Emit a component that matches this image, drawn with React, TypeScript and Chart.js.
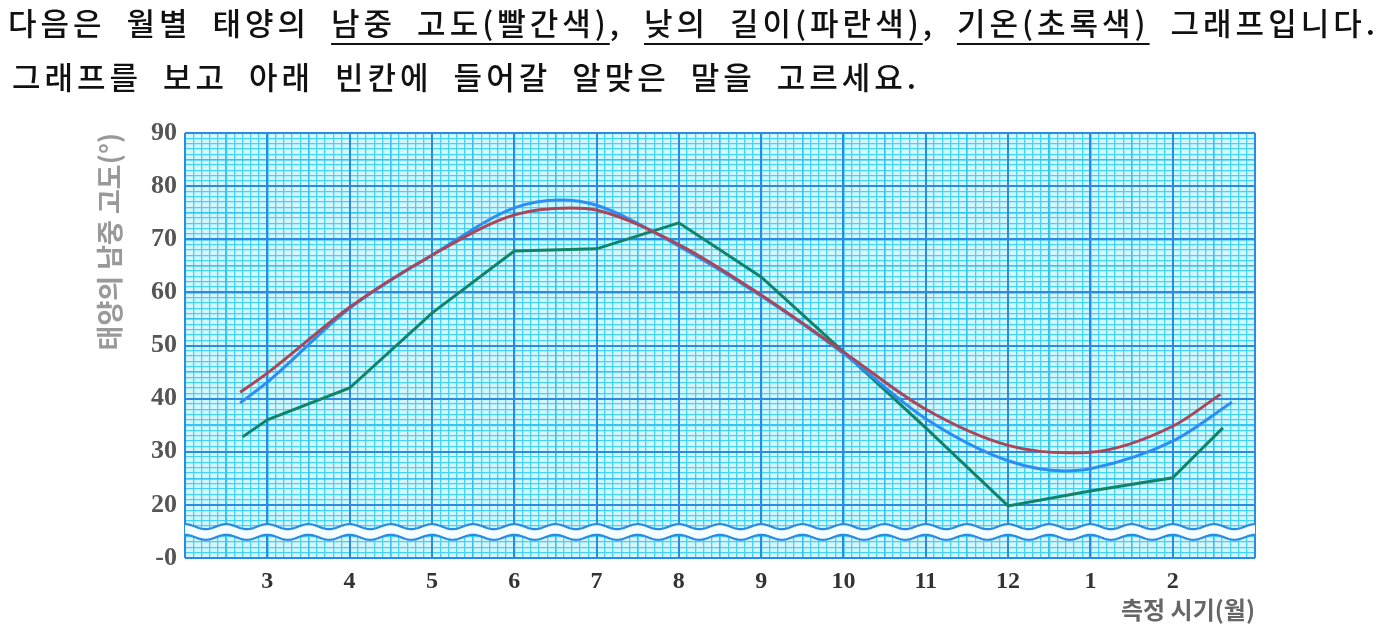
import React, { useEffect, useRef } from 'react';
import { Chart, registerables } from 'chart.js';

Chart.register(...registerables);

// ---- data ----
const MONTH_LABELS = ['3', '4', '5', '6', '7', '8', '9', '10', '11', '12', '1', '2'];
const Y_TICK_VALUES = [10, 20, 30, 40, 50, 60, 70, 80, 90];
const Y_TICK_LABELS = ['-0', '20', '30', '40', '50', '60', '70', '80', '90'];

// 태양의 남중 고도 (빨간색)
const ALT_X = [-0.33, 0, 1, 2, 3, 3.68, 4, 5, 6, 7, 8, 9, 9.75, 10, 11, 11.58];
const ALT_Y = [41.2, 44.8, 57.2, 67.0, 74.6, 75.9, 75.5, 69.0, 59.5, 48.8, 38.0, 31.2, 29.8, 29.9, 34.8, 40.8];

// 낮의 길이 (파란색)
const DAY_X = [-0.33, 0, 1, 2, 3, 3.56, 4, 5, 6, 7, 8, 9, 9.69, 10, 11, 11.72];
const DAY_Y = [39.2, 43.1, 57.0, 67.0, 75.9, 77.4, 76.4, 68.7, 59.3, 48.5, 36.2, 28.3, 26.4, 26.8, 32.0, 39.3];

// 기온 (초록색)
const TEMP_X = [-0.3, 0, 1, 2, 3, 4, 5, 6, 7, 8, 9, 10, 11, 11.61];
const TEMP_Y = [32.8, 36.0, 42.0, 56.1, 67.8, 68.2, 73.1, 62.9, 48.8, 34.5, 19.8, 22.6, 25.1, 34.5];

const X_TITLE = '측정 시기(월)';
const Y_TITLE = '태양의 남중 고도(°)';

// axis break band (value range on y)
const BREAK_UPPER = 15.9;
const BREAK_LOWER = 13.9;

// ---- styles ----
const PAPER = '#d4f6fe';
const MINOR = '#45d3f5';
const MID = '#35c2f1';
const MAJOR = '#2b8be0';

const zip = (xs: number[], ys: number[]) => xs.map((x, i) => ({ x, y: ys[i] }));

const paperPlugin = {
  id: 'paper',
  beforeDraw(chart: any) {
    const { ctx, chartArea } = chart;
    ctx.save();
    ctx.fillStyle = PAPER;
    ctx.fillRect(chartArea.left, chartArea.top, chartArea.right - chartArea.left, chartArea.bottom - chartArea.top);
    ctx.restore();
  },
};

const breakPlugin = {
  id: 'axisBreak',
  beforeDatasetsDraw(chart: any) {
    const { ctx, chartArea, scales } = chart;
    const xs = scales.x;
    const ys = scales.y;
    const yTop = ys.getPixelForValue(BREAK_UPPER);
    const yBot = ys.getPixelForValue(BREAK_LOWER);
    const x0 = xs.getPixelForValue(0);
    const period = (xs.getPixelForValue(1) - x0) / 2;
    const amp = 2.5;
    const wave = (x: number) => -amp * Math.cos((2 * Math.PI * (x - x0)) / period);
    const L = chartArea.left;
    const R = chartArea.right;
    ctx.save();
    ctx.beginPath();
    ctx.moveTo(L, yTop + wave(L));
    for (let x = L; x <= R; x += 1) ctx.lineTo(x, yTop + wave(x));
    ctx.lineTo(R, yBot + wave(R));
    for (let x = R; x >= L; x -= 1) ctx.lineTo(x, yBot + wave(x));
    ctx.closePath();
    ctx.fillStyle = '#f4fdff';
    ctx.fill();
    ctx.strokeStyle = MAJOR;
    ctx.lineWidth = 2.2;
    [yTop, yBot].forEach((yy) => {
      ctx.beginPath();
      ctx.moveTo(L, yy + wave(L));
      for (let x = L; x <= R; x += 1) ctx.lineTo(x, yy + wave(x));
      ctx.stroke();
    });
    ctx.restore();
  },
};

const hiddenAxis = (axis: 'x' | 'y', min: number, max: number, step: number, color: string, width: number, z: number) => ({
  type: 'linear',
  axis,
  position: axis === 'x' ? 'bottom' : 'left',
  min,
  max,
  ticks: { display: false, stepSize: step },
  grid: { color, lineWidth: width, drawTicks: false, z },
  border: { display: false },
  afterFit: (s: any) => {
    if (axis === 'x') s.height = 0;
    else s.width = 0;
  },
});

export default function App() {
  const canvasRef = useRef<HTMLCanvasElement | null>(null);

  useEffect(() => {
    if (!canvasRef.current) return;
    const chart = new Chart(canvasRef.current, {
      type: 'line',
      data: {
        datasets: [
          {
            label: '태양의 남중 고도',
            data: zip(ALT_X, ALT_Y),
            borderColor: '#a9475a',
            borderWidth: 3,
            pointRadius: 0,
            cubicInterpolationMode: 'monotone',
            fill: false,
          },
          {
            label: '낮의 길이',
            data: zip(DAY_X, DAY_Y),
            borderColor: '#2d8ef2',
            borderWidth: 3,
            pointRadius: 0,
            cubicInterpolationMode: 'monotone',
            fill: false,
          },
          {
            label: '기온',
            data: zip(TEMP_X, TEMP_Y),
            borderColor: '#0f8468',
            borderWidth: 3,
            pointRadius: 0,
            tension: 0,
            fill: false,
          },
        ],
      } as any,
      options: {
        animation: false,
        responsive: true,
        maintainAspectRatio: false,
        parsing: true,
        layout: { padding: { left: 94, top: 133, right: 139, bottom: 0 } },
        plugins: {
          legend: { display: false },
          tooltip: { enabled: false },
        },
        scales: {
          xMinor: hiddenAxis('x', -1, 12, 0.1, MINOR, 1.3, -4),
          yMinor: hiddenAxis('y', 10, 90, 1, MINOR, 1.3, -4),
          xMid: hiddenAxis('x', -1, 12, 0.5, MID, 1.5, -3),
          yMid: hiddenAxis('y', 10, 90, 5, MID, 1.5, -3),
          x: {
            type: 'linear',
            position: 'bottom',
            min: -1,
            max: 12,
            afterFit: (s: any) => {
              s.height = 80;
            },
            ticks: {
              stepSize: 1,
              autoSkip: false,
              maxRotation: 0,
              padding: 9,
              color: '#333',
              font: { family: '"Liberation Serif", serif', size: 24, weight: 'bold' },
              callback: (v: any) => {
                const i = Math.round(Number(v));
                return Math.abs(Number(v) - i) < 1e-6 && i >= 0 && i < MONTH_LABELS.length ? MONTH_LABELS[i] : '';
              },
            },
            grid: { color: MAJOR, lineWidth: 2, drawTicks: false, z: -1 },
            border: { display: false },
            title: {
              display: true,
              text: X_TITLE,
              align: 'end',
              color: '#666',
              font: { family: '"Noto Sans CJK KR", sans-serif', size: 24, weight: 'bold' },
              padding: { top: 4, bottom: 14 },
            },
          },
          y: {
            type: 'linear',
            position: 'left',
            min: 10,
            max: 90,
            afterFit: (s: any) => {
              s.width = 91;
            },
            afterBuildTicks: (s: any) => {
              s.ticks = Y_TICK_VALUES.map((v) => ({ value: v }));
            },
            ticks: {
              padding: 8,
              color: '#555',
              font: { family: '"Liberation Serif", serif', size: 26, weight: 'bold' },
              callback: (v: any) => {
                const i = Y_TICK_VALUES.indexOf(Number(v));
                return i >= 0 ? Y_TICK_LABELS[i] : '';
              },
            },
            grid: { color: MAJOR, lineWidth: 2, drawTicks: false, z: -1 },
            border: { display: false },
            title: {
              display: true,
              text: Y_TITLE,
              align: 'end',
              color: '#999',
              font: { family: '"Noto Sans CJK KR", sans-serif', size: 27, weight: 'bold' },
              padding: { top: 0, bottom: 0 },
            },
          },
        },
      } as any,
      plugins: [paperPlugin, breakPlugin],
    });
    return () => chart.destroy();
  }, []);

  const u: React.CSSProperties = {
    textDecoration: 'underline',
    textUnderlineOffset: '8px',
    textDecorationThickness: '2px',
  };

  return (
    <>
      <div
        style={{
          position: 'relative',
          zIndex: 1,
          marginTop: -13,
          fontFamily: '"Noto Sans CJK KR", sans-serif',
          fontSize: 31,
          fontWeight: 500,
          lineHeight: '54px',
          letterSpacing: '4px',
          wordSpacing: '10px',
          color: '#111',
          whiteSpace: 'nowrap',
        }}
      >
        <div>
          다음은 월별 태양의 <span style={u}>남중 고도(빨간색)</span>, <span style={u}>낮의 길이(파란색)</span>,{' '}
          <span style={u}>기온(초록색)</span> 그래프입니다.
        </div>
        <div style={{ paddingLeft: 4 }}>그래프를 보고 아래 빈칸에 들어갈 알맞은 말을 고르세요.</div>
      </div>
      <div style={{ position: 'absolute', left: 0, top: 0, width: 1394, height: 638 }}>
        <canvas ref={canvasRef} />
      </div>
    </>
  );
}
